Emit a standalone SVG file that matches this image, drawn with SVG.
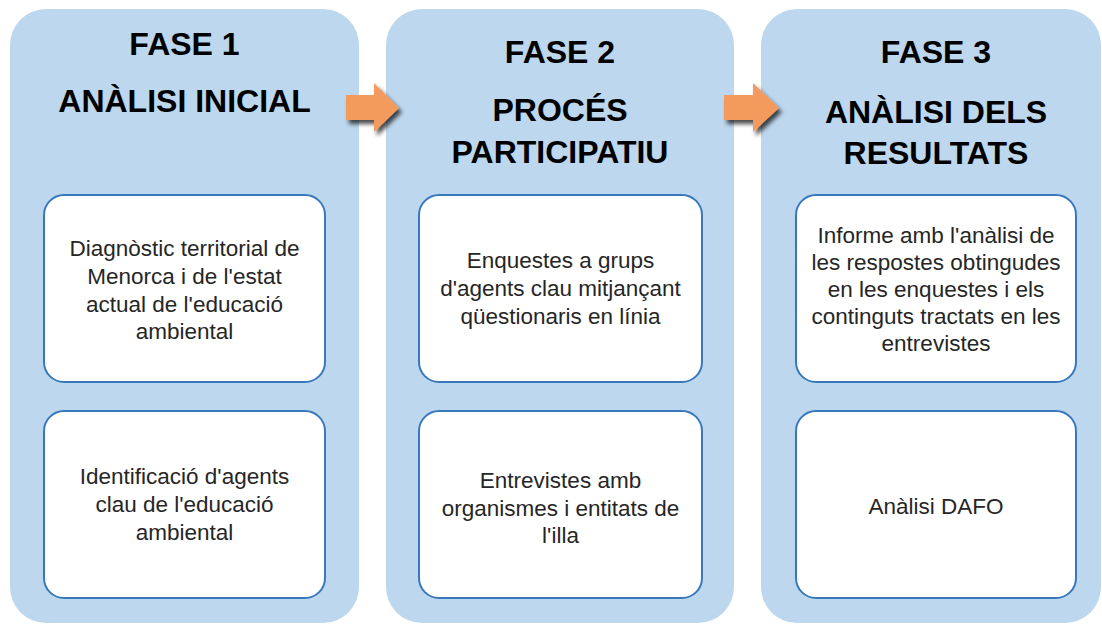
<svg xmlns="http://www.w3.org/2000/svg" width="1102" height="624" viewBox="0 0 1102 624">
<defs>
<style>
.panel{fill:#bdd7ee;}
.box{fill:#ffffff;stroke:#3a78bd;stroke-width:2;}
.title{font-family:"Liberation Sans",Arial,sans-serif;font-weight:bold;font-size:32px;fill:#000;text-anchor:middle;}
.body{font-family:"Liberation Sans",Arial,sans-serif;font-size:22.5px;fill:#262626;text-anchor:middle;}
.arrow{fill:#f29b5d;}
</style>
<filter id="sh" x="-30%" y="-30%" width="170%" height="170%">
<feDropShadow dx="3" dy="4" stdDeviation="2" flood-color="#000" flood-opacity="0.7"/>
</filter>
</defs>
<rect width="1102" height="624" fill="#ffffff"/>
<g id="fase1">
<rect class="panel" x="10" y="9" width="349" height="614" rx="36"/>
<text class="title" x="184.5" y="55">FASE 1</text>
<text class="title" x="184.5" y="112">ANÀLISI INICIAL</text>
</g>
<g id="fase2">
<rect class="panel" x="386" y="9" width="348" height="614" rx="36"/>
<text class="title" x="560" y="63">FASE 2</text>
<text class="title" x="560" y="121">PROCÉS</text>
<text class="title" x="560" y="163">PARTICIPATIU</text>
</g>
<g id="fase3">
<rect class="panel" x="761" y="9" width="340" height="614" rx="36"/>
<text class="title" x="936" y="63">FASE 3</text>
<text class="title" x="936" y="123">ANÀLISI DELS</text>
<text class="title" x="936" y="164">RESULTATS</text>
</g>
<g id="box1a">
<rect class="box" x="44" y="195" width="281" height="187" rx="20"/>
<text class="body" x="184.5" y="256">Diagnòstic territorial de</text>
<text class="body" x="184.5" y="284">Menorca i de l'estat</text>
<text class="body" x="184.5" y="312">actual de l'educació</text>
<text class="body" x="184.5" y="339">ambiental</text>
</g>
<g id="box1b">
<rect class="box" x="44" y="411" width="281" height="187" rx="20"/>
<text class="body" x="184.5" y="484">Identificació d'agents</text>
<text class="body" x="184.5" y="512">clau de l'educació</text>
<text class="body" x="184.5" y="540">ambiental</text>
</g>
<g id="box2a">
<rect class="box" x="419" y="195" width="283" height="187" rx="20"/>
<text class="body" x="560.5" y="268">Enquestes a grups</text>
<text class="body" x="560.5" y="296">d'agents clau mitjançant</text>
<text class="body" x="560.5" y="324">qüestionaris en línia</text>
</g>
<g id="box2b">
<rect class="box" x="419" y="411" width="283" height="187" rx="20"/>
<text class="body" x="560.5" y="488">Entrevistes amb</text>
<text class="body" x="560.5" y="516">organismes i entitats de</text>
<text class="body" x="560.5" y="543">l'illa</text>
</g>
<g id="box3a">
<rect class="box" x="796" y="195" width="280" height="187" rx="20"/>
<text class="body" x="936" y="243">Informe amb l'anàlisi de</text>
<text class="body" x="936" y="270">les respostes obtingudes</text>
<text class="body" x="936" y="297">en les enquestes i els</text>
<text class="body" x="936" y="324">continguts tractats en les</text>
<text class="body" x="936" y="351">entrevistes</text>
</g>
<g id="box3b">
<rect class="box" x="796" y="411" width="280" height="187" rx="20"/>
<text class="body" x="936" y="514">Anàlisi DAFO</text>
</g>
<g id="connectors">
<path class="arrow" filter="url(#sh)" d="M346,95 H374 V83 L399,108 L374,132 V120 H346 Z"/>
<path class="arrow" filter="url(#sh)" d="M724,95 H753 V83 L779,108 L753,132 V120 H724 Z"/>
</g>
</svg>
